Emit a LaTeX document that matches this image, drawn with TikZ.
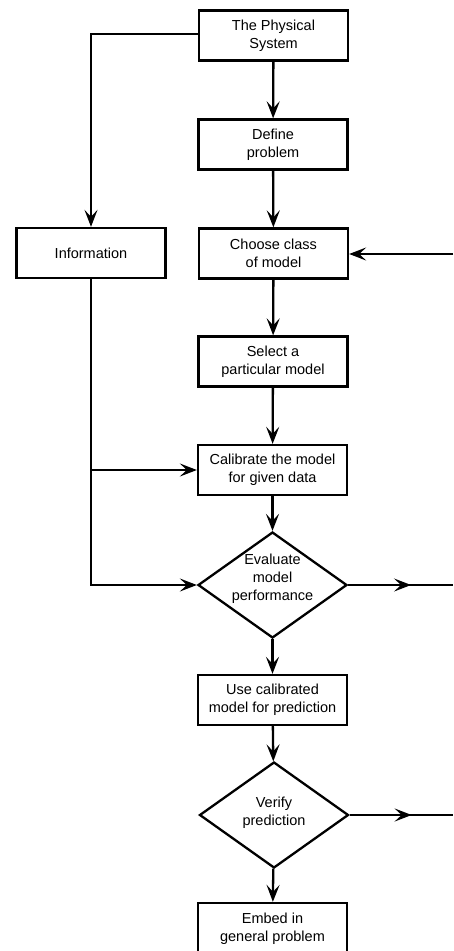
\documentclass[tikz,border=0pt]{standalone}
\usepackage{fontspec}
\setmainfont{Liberation Sans}
\usetikzlibrary{shapes.geometric,arrows.meta,decorations.markings}
\begin{document}
\begin{tikzpicture}[x=1pt,y=-1pt,
  txt/.style={font=\fontsize{14.5}{18}\selectfont, align=center},
  box/.style={txt, draw, line width=2.3pt, minimum width=149pt, minimum height=50pt, inner sep=0pt},
  dia/.style={draw, diamond, line width=2.3pt, minimum width=149pt, minimum height=106pt, inner sep=0pt},
  conn/.style={line width=2.3pt, -{Stealth[length=17pt,width=13pt,inset=7pt]}},
  midarr/.style={line width=2.3pt, postaction={decorate},
    decoration={markings, mark=at position #1 with {\arrow{Stealth[length=17pt,width=13pt,inset=7pt]}}}}
]
\useasboundingbox (0,0) rectangle (453,951);
\clip (0,0) rectangle (453,951);

\node[box] (phys) at (273.5,35.5) {The Physical\\System};
\node[box] (def) at (273,144.5) {Define\\problem};
\node[box] (choose) at (273.5,253.5) {Choose class\\of model};
\node[box] (sel) at (273,361.5) {Select a\\particular model};
\node[box] (cal) at (272.5,470) {Calibrate the model\\for given data};
\node[dia] (eval) at (272.5,585) {};
\node[txt] (evaltxt) at ([yshift=6pt]eval.center) {Evaluate\\model\\performance};
\node[box] (use) at (272.5,700) {Use calibrated\\model for prediction};
\node[dia] (ver) at (274,815) {};
\node[txt] (vertxt) at ([yshift=2pt]ver.center) {Verify\\prediction};
\node[box, minimum height=52pt] (emb) at (272.5,929) {Embed in\\general problem};
\node[box] (info) at (91,253) {Information};

\coordinate (tl) at (91,34);
\coordinate (bl) at (91,585);
\coordinate (ml) at (91,470);
\coordinate (rin) at (453,254);
\coordinate (rev) at (453,585);
\coordinate (rve) at (453,815);

\draw[conn] (phys) -- (def);
\draw[conn] (def) -- (choose);
\draw[conn] (choose) -- (sel);
\draw[conn] (sel) -- (cal);
\draw[conn] (cal) -- (eval);
\draw[conn] (eval) -- (use);
\draw[conn] (use) -- (ver);
\draw[conn] (ver) -- (emb);

\draw[conn] (phys.west |- tl) -- (tl) -- (info.north);
\draw[conn] (info.south) -- (bl) -- (eval.west);
\draw[conn] (ml) -- (cal.west |- ml);
\draw[conn] (rin) -- (choose.east |- rin);
\draw[midarr=0.6] (eval.east) -- (rev);
\draw[midarr=0.6] (ver.east) -- (rve);
\end{tikzpicture}
\end{document}
